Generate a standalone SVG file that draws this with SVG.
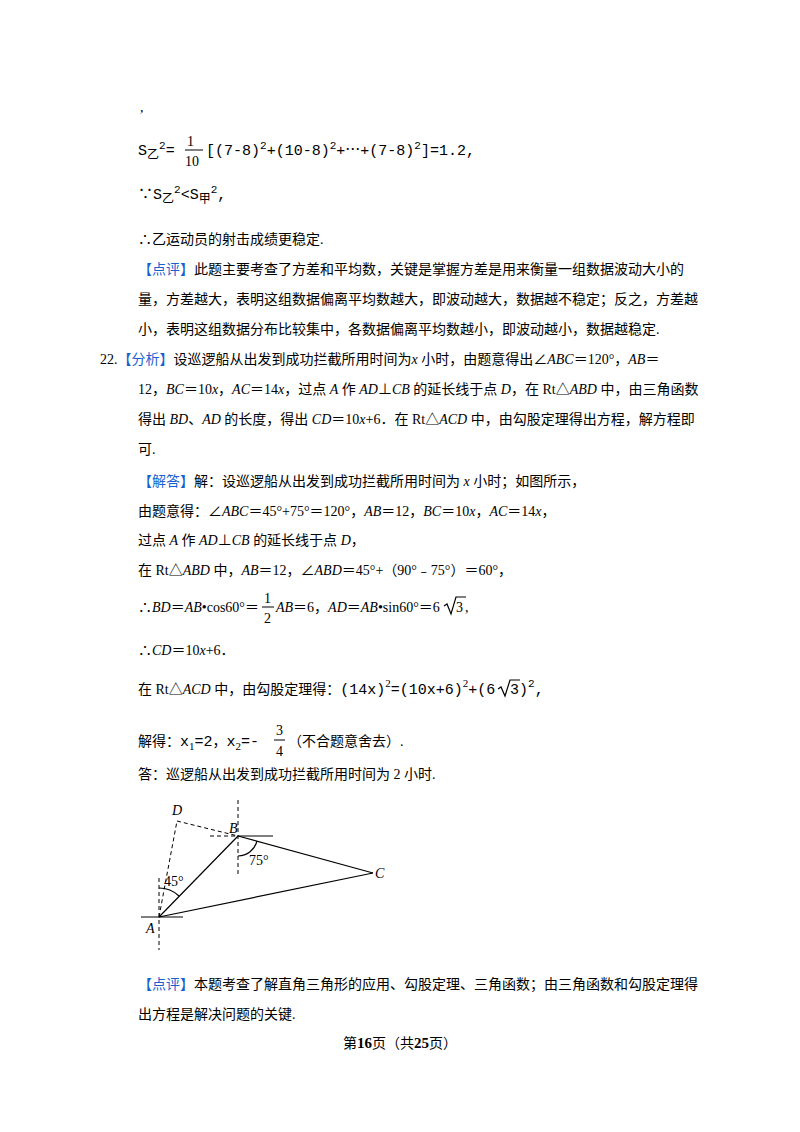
<svg xmlns="http://www.w3.org/2000/svg" width="800" height="1132" viewBox="0 0 800 1132">
<style>
text{font-family:"Liberation Serif","Noto Sans CJK SC",serif;font-size:14px;fill:#000}
.i{font-style:italic}
.b{fill:#1a5fd0}
.m{font-family:"Liberation Mono","Noto Sans CJK SC",monospace;font-size:15px}
.sup{font-size:11px}
.d{stroke:#000;stroke-width:1;stroke-dasharray:4,3;fill:none}
.s{stroke:#000;stroke-width:1.2;fill:none}
</style>
<rect width="800" height="1132" fill="#fff"/>
<text x="140" y="112">,</text>
<text x="138" y="155" class="m">S<tspan font-size="12" dy="4">乙</tspan><tspan class="sup" dy="-10">2</tspan><tspan dy="6">=</tspan></text>
<text x="187" y="146" font-size="15">1</text>
<line x1="185" y1="150" x2="203" y2="150" stroke="#000"/>
<text x="185" y="166" font-size="15">10</text>
<text x="206" y="155" class="m">[(7-8)<tspan class="sup" dy="-6">2</tspan><tspan dy="6">+(10-8)</tspan><tspan class="sup" dy="-6">2</tspan><tspan dy="6">+⋯+(7-8)</tspan><tspan class="sup" dy="-6">2</tspan><tspan dy="6">]=1.2,</tspan></text>
<text x="138" y="199" class="m">∵S<tspan font-size="12" dy="4">乙</tspan><tspan class="sup" dy="-10">2</tspan><tspan dy="6">&lt;S</tspan><tspan font-size="12" dy="4">甲</tspan><tspan class="sup" dy="-10">2</tspan><tspan dy="6">,</tspan></text>
<text x="138" y="244">∴乙运动员的射击成绩更稳定.</text>
<text x="138" y="274"><tspan class="b">【点评】</tspan>此题主要考查了方差和平均数，关键是掌握方差是用来衡量一组数据波动大小的</text>
<text x="138" y="304">量，方差越大，表明这组数据偏离平均数越大，即波动越大，数据越不稳定；反之，方差越</text>
<text x="138" y="334">小，表明这组数据分布比较集中，各数据偏离平均数越小，即波动越小，数据越稳定.</text>
<text x="100" y="364">22.<tspan class="b">【分析】</tspan>设巡逻船从出发到成功拦截所用时间为<tspan class="i">x</tspan> 小时，由题意得出∠<tspan class="i">ABC</tspan>＝120°，<tspan class="i">AB</tspan>＝</text>
<text x="138" y="394">12，<tspan class="i">BC</tspan>＝10<tspan class="i">x</tspan>，<tspan class="i">AC</tspan>＝14<tspan class="i">x</tspan>，过点 <tspan class="i">A</tspan> 作 <tspan class="i">AD</tspan>⊥<tspan class="i">CB</tspan> 的延长线于点 <tspan class="i">D</tspan>，在 Rt△<tspan class="i">ABD</tspan> 中，由三角函数</text>
<text x="138" y="424">得出 <tspan class="i">BD</tspan>、<tspan class="i">AD</tspan> 的长度，得出 <tspan class="i">CD</tspan>＝10<tspan class="i">x</tspan>+6．在 Rt△<tspan class="i">ACD</tspan> 中，由勾股定理得出方程，解方程即</text>
<text x="138" y="454">可.</text>
<text x="138" y="486"><tspan class="b">【解答】</tspan>解：设巡逻船从出发到成功拦截所用时间为 <tspan class="i">x</tspan> 小时；如图所示，</text>
<text x="138" y="516">由题意得：∠<tspan class="i">ABC</tspan>＝45°+75°＝120°，<tspan class="i">AB</tspan>＝12，<tspan class="i">BC</tspan>＝10<tspan class="i">x</tspan>，<tspan class="i">AC</tspan>＝14<tspan class="i">x</tspan>，</text>
<text x="138" y="545">过点 <tspan class="i">A</tspan> 作 <tspan class="i">AD</tspan>⊥<tspan class="i">CB</tspan> 的延长线于点 <tspan class="i">D</tspan>，</text>
<text x="138" y="575">在 Rt△<tspan class="i">ABD</tspan> 中，<tspan class="i">AB</tspan>＝12，∠<tspan class="i">ABD</tspan>＝45°+（90°﹣75°）＝60°，</text>
<text x="138" y="612">∴<tspan class="i">BD</tspan>＝<tspan class="i">AB</tspan>•cos60°＝</text>
<text x="264" y="603" font-size="15">1</text>
<line x1="262" y1="607" x2="274" y2="607" stroke="#000"/>
<text x="264" y="623" font-size="15">2</text>
<text x="276" y="612"><tspan class="i">AB</tspan>＝6，<tspan class="i">AD</tspan>＝<tspan class="i">AB</tspan>•sin60°＝6</text>
<path d="M444,606 l3,-2 l4,10 l5,-17 h10" class="s" stroke-width="1"/>
<text x="456" y="612">3</text>
<text x="465" y="612">,</text>
<text x="138" y="655">∴<tspan class="i">CD</tspan>＝10<tspan class="i">x</tspan>+6．</text>
<text x="138" y="694">在 Rt△<tspan class="i">ACD</tspan> 中，由勾股定理得：<tspan class="m">(14x)</tspan><tspan class="sup" dy="-7">2</tspan><tspan class="m" dy="7">=(10x+6)</tspan><tspan class="sup" dy="-7">2</tspan><tspan class="m" dy="7">+(6</tspan></text>
<path d="M498,689 l3,-2 l4,9 l5,-16 h10" class="s" stroke-width="1"/>
<text x="510" y="694" class="m">3)<tspan class="sup" dy="-7">2</tspan><tspan dy="7">,</tspan></text>
<text x="138" y="746">解得：<tspan class="m">x</tspan><tspan class="sup" dy="4">1</tspan><tspan class="m" dy="-4">=2</tspan>，<tspan class="m">x</tspan><tspan class="sup" dy="4">2</tspan><tspan class="m" dy="-4">=-</tspan></text>
<text x="276" y="735" font-size="15">3</text>
<line x1="274" y1="740" x2="285" y2="740" stroke="#000"/>
<text x="276" y="756" font-size="15">4</text>
<text x="288" y="746">（不合题意舍去）.</text>
<text x="138" y="779">答：巡逻船从出发到成功拦截所用时间为 2 小时.</text>
<g id="figure">
<line class="d" x1="159" y1="878" x2="159" y2="950"/>
<line class="s" x1="141" y1="917" x2="183" y2="917"/>
<line class="d" x1="238" y1="800" x2="238" y2="875"/>
<line class="d" x1="210" y1="836" x2="238" y2="836"/>
<line class="s" x1="238" y1="836" x2="273" y2="836"/>
<line class="d" x1="159" y1="917" x2="177" y2="821"/>
<line class="d" x1="177" y1="821" x2="238" y2="836"/>
<line class="s" x1="159" y1="917" x2="238" y2="836"/>
<line class="s" x1="238" y1="836" x2="373" y2="873"/>
<line class="s" x1="159" y1="917" x2="373" y2="873"/>
<path class="s" d="M159,888 A29,29 0 0 1 179,896"/>
<path class="s" d="M238,856 A20,20 0 0 0 257,841"/>
<text x="164" y="886" font-size="13">45°</text>
<text x="249" y="865" font-size="13">75°</text>
<text x="172" y="815" class="i">D</text>
<text x="229" y="833" class="i">B</text>
<text x="375" y="878" class="i">C</text>
<text x="146" y="933" class="i">A</text>
</g>
<text x="138" y="989"><tspan class="b">【点评】</tspan>本题考查了解直角三角形的应用、勾股定理、三角函数；由三角函数和勾股定理得</text>
<text x="138" y="1019">出方程是解决问题的关键.</text>
<text x="400" y="1048" text-anchor="middle" font-size="13">第<tspan font-weight="bold" font-size="15">16</tspan>页（共<tspan font-weight="bold" font-size="15">25</tspan>页）</text>
</svg>
